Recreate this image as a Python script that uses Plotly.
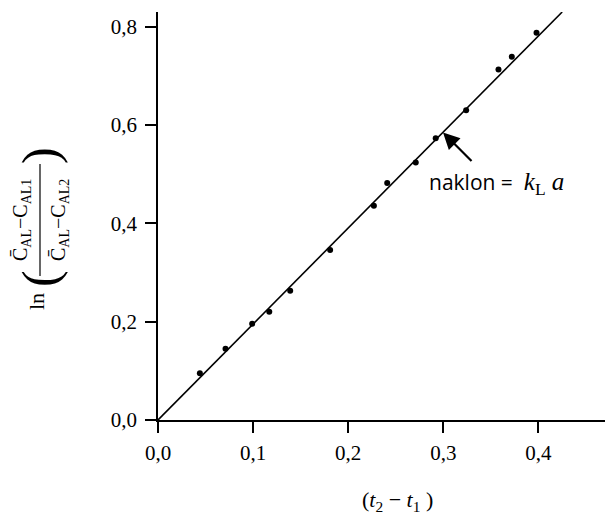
import plotly.graph_objects as go

# ---- data ----
x_points = [0.044, 0.071, 0.099, 0.117, 0.139, 0.181, 0.227, 0.241, 0.271, 0.292, 0.324, 0.358, 0.372, 0.398]
y_points = [0.095, 0.145, 0.196, 0.220, 0.263, 0.346, 0.436, 0.482, 0.524, 0.573, 0.630, 0.713, 0.739, 0.788]
fit_x = [0.0, 0.425]
fit_y = [0.0, 0.830]
x_ticks = [0.0, 0.1, 0.2, 0.3, 0.4]
x_tick_labels = ["0,0", "0,1", "0,2", "0,3", "0,4"]
y_ticks = [0.0, 0.2, 0.4, 0.6, 0.8]
y_tick_labels = ["0,0", "0,2", "0,4", "0,6", "0,8"]
arrow_x, arrow_y = 0.2997, 0.585

W, H = 605, 515
L, R, T, B = 158, 605, 12, 420


def px(xp):
    return (xp - L) / (R - L)


def py(yp):
    return (B - yp) / (B - T)


SERIF = "Liberation Serif"
SANS = "Open Sans"

fig = go.Figure()
fig.add_trace(go.Scatter(x=fit_x, y=fit_y, mode="lines",
                         line=dict(color="black", width=1.6), showlegend=False))
fig.add_trace(go.Scatter(x=x_points, y=y_points, mode="markers",
                         marker=dict(color="black", size=6), showlegend=False))

axis_common = dict(showgrid=False, zeroline=False, showline=True, linecolor="black",
                   linewidth=1.6, ticks="outside", ticklen=11, tickwidth=1.5,
                   tickcolor="black", tickfont=dict(family=SERIF, size=21, color="black"))

fig.update_xaxes(range=[0, 0.47], tickmode="array", tickvals=x_ticks,
                 ticktext=x_tick_labels, ticklabelstandoff=2, **axis_common)
fig.update_yaxes(range=[0, 0.83], tickmode="array", tickvals=y_ticks,
                 ticktext=y_tick_labels, ticklabelstandoff=4, **axis_common)

ann = []
# slope annotation
ann.append(dict(x=arrow_x, y=arrow_y, xref="x", yref="y", text="", showarrow=True,
                ax=30, ay=30, arrowhead=2, arrowsize=1.5, arrowwidth=2.2,
                arrowcolor="black", standoff=0))
ann.append(dict(x=px(427), y=py(184), xref="paper", yref="paper", xanchor="left",
                yanchor="middle", showarrow=False,
                text=("naklon =\u00a0\u00a0<span style='font-family:Liberation Serif;font-size:25px'>"
                      "<i>k</i><sub>L</sub>\u00a0<i>a</i></span>"),
                font=dict(family=SANS, size=21, color="black")))
# x title
ann.append(dict(x=px(397), y=py(501), xref="paper", yref="paper", xanchor="center",
                yanchor="middle", showarrow=False,
                text="(<i>t</i><sub>2</sub>\u00a0\u2212\u00a0<i>t</i><sub>1</sub>\u00a0)",
                font=dict(family=SERIF, size=22, color="black")))
# y title pieces (rotated)
ann.append(dict(x=px(37), y=py(302), xref="paper", yref="paper", xanchor="center",
                yanchor="middle", showarrow=False, textangle=-90, text="ln",
                font=dict(family=SERIF, size=22, color="black")))
ann.append(dict(x=px(40), y=py(279), xref="paper", yref="paper", xanchor="center",
                yanchor="middle", showarrow=False, textangle=-90, text="(",
                font=dict(family=SERIF, size=50, color="black")))
ann.append(dict(x=px(40), y=py(156), xref="paper", yref="paper", xanchor="center",
                yanchor="middle", showarrow=False, textangle=-90, text=")",
                font=dict(family=SERIF, size=50, color="black")))
num_text = "C\u0304<sub>AL</sub>\u2212C<sub>AL1</sub>"
den_text = "C\u0304<sub>AL</sub>\u2212C<sub>AL2</sub>"
ann.append(dict(x=px(21), y=py(220), xref="paper", yref="paper", xanchor="center",
                yanchor="middle", showarrow=False, textangle=-90, text=num_text,
                font=dict(family=SERIF, size=20, color="black")))
ann.append(dict(x=px(59), y=py(220), xref="paper", yref="paper", xanchor="center",
                yanchor="middle", showarrow=False, textangle=-90, text=den_text,
                font=dict(family=SERIF, size=20, color="black")))

shapes = [dict(type="line", xref="paper", yref="paper", x0=px(40), x1=px(40),
               y0=py(164), y1=py(276), line=dict(color="black", width=1.2))]

fig.update_layout(width=W, height=H,
                  margin=dict(l=L, r=W - R, t=T, b=H - B, autoexpand=False),
                  plot_bgcolor="white", paper_bgcolor="white",
                  annotations=ann, shapes=shapes, showlegend=False)

fig.write_html("out.html", config={"displayModeBar": False},
               post_script="document.body.style.margin='0';document.body.style.padding='0';")
